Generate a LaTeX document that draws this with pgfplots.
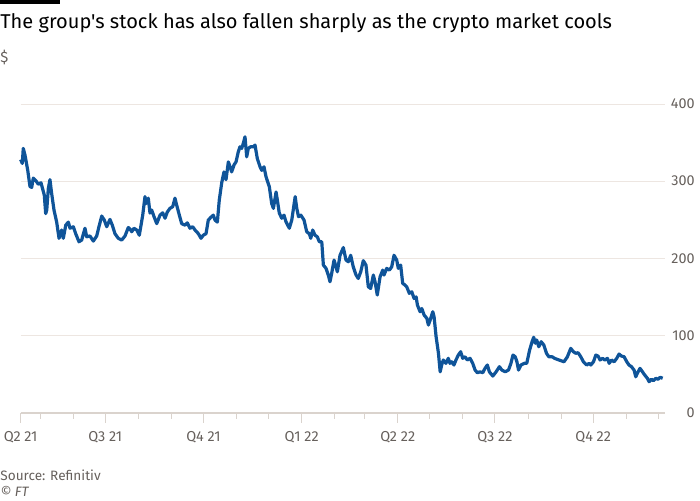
\documentclass[border=0pt]{standalone}
\usepackage{pgfplots}
\usepackage{pgfplotstable}
\pgfplotsset{compat=1.18}
\usepackage{fontspec}
\setmainfont{Fira Sans}
\newfontfamily\plainfont{Fira Sans}
\definecolor{ftblue}{HTML}{0F5499}
\definecolor{gridc}{HTML}{EDE6E1}
\definecolor{axisc}{HTML}{DAD3CD}
\definecolor{labc}{HTML}{66605C}
% day = days since 1 April 2021, price in $
\pgfplotstableread{
day price
11.8 328
13.3 323
14.2 342.5
15.8 334
18.4 314
20.5 293
22.1 292
23.6 304
26.1 300.5
28.3 296
30.8 298
33.9 282
35.2 258
36.2 262.6
37.7 290.7
39.2 302
40.8 284
43.0 262.6
45.5 247
47.7 226
50.2 236.7
51.7 226
54.0 243
56.4 247
58.0 239
61.1 241
63.3 232
66.4 221.5
68.9 223.7
72.0 239
73.6 228
76.7 229
79.8 222.4
83.0 229
85.1 241
87.7 254.8
90.1 249.6
92.4 241
95.4 250.5
97.6 243
100.1 232
103.2 226
106.4 223.7
109.5 229
112.6 240
114.2 238
115.8 234.5
117.9 239
120.5 236.7
122.9 230
126.1 256
128.2 280
129.2 271
131.3 278
132.9 258.7
134.5 262.6
136.7 254
139.2 245
142.3 256
144.8 259
147.0 252
149.1 260
151.6 264.8
154.2 267
156.3 278
157.9 269
160.4 256
162.6 245
165.7 243
167.9 246
170.4 239
172.9 241
175.1 236.7
178.2 232
180.7 226
182.8 230
185.4 232
187.5 249.6
189.8 253
192.2 256
193.8 249.6
196.0 247
197.8 275.5
200.1 298
202.2 312
204.1 302
206.3 325
207.9 318.6
209.4 312
211.6 321
213.5 325
215.6 338
217.2 344.6
218.8 342.5
220.3 349
221.9 357.5
223.5 331.6
225.0 342.5
227.2 344.6
229.7 344.6
231.3 346.8
233.4 329.5
236.0 318.6
237.6 314
239.7 318.6
241.6 305.7
244.7 292.7
246.9 271
248.5 264.8
251.0 286
252.2 275.5
254.0 258.7
256.3 252
258.4 256
260.3 247.4
263.4 239
265.7 249.6
268.9 280
270.4 264.8
272.0 254
274.2 256
277.2 249.6
279.7 234.5
282.1 232
283.5 226
285.3 236.7
287.5 230
289.6 228
291.5 221.5
293.8 221.5
295.3 191.3
297.8 187
299.9 178.4
301.5 169.7
303.1 180.6
305.3 197.8
307.2 189
308.4 182.6
310.9 204
314.0 214
316.5 197.8
318.7 195.6
320.9 204
323.3 189
325.9 178.4
328.0 174
330.3 182.6
332.7 197
335.2 191.3
337.4 163.2
339.6 161
342.1 178.4
343.7 169.7
345.8 152.5
348.4 176
350.9 184.8
352.1 178.4
354.6 187
357.1 184.8
359.3 189
361.5 204
364.0 197.8
365.5 187
367.7 191.3
369.6 167.6
371.8 165.4
373.4 163
375.8 154.7
378.1 156.7
380.3 148
382.2 150
383.4 139.5
385.9 130.8
387.5 135
389.7 126.5
392.2 122.3
393.7 113.6
395.3 120
397.8 130.8
399.0 124.4
400.9 98.4
403.1 77
404.7 53
406.1 61.8
407.6 68.3
410.1 64
412.3 70.5
413.9 64
415.5 66
417.6 61.8
419.5 68.3
421.7 74.7
423.9 79
425.8 70.5
428.0 72.5
430.1 68.3
432.7 70.5
435.2 64
437.4 55.3
439.5 51.8
442.0 53
444.6 51.8
446.7 57.5
448.9 61.8
450.8 53
454.0 47.5
457.1 53
460.2 59.6
462.5 55.3
465.6 53
468.7 55.3
471.0 64
472.9 74.7
475.0 72.5
476.6 66
478.1 55.3
480.4 61.8
483.5 64
485.8 64
488.5 81.2
490.8 92
492.3 97.7
493.9 90
495.1 94.2
497.1 85.5
499.3 92
501.8 87.7
504.3 77
506.5 72.5
509.6 72.5
511.8 70.5
516.0 68.3
520.7 66
523.9 72.5
527.0 83.4
529.5 79
531.7 77
533.9 77.7
536.4 72.5
538.9 66
542.0 61.8
544.2 64
545.8 61.8
548.3 66
550.5 74.7
552.6 73.4
554.5 68.3
556.8 70.5
558.9 68.3
561.4 70.5
563.0 64
565.2 68.3
567.6 66
570.1 70.5
572.3 76
574.5 73.4
577.0 72.5
579.5 66
581.6 61.8
583.9 59.6
586.3 55.3
587.9 46.6
590.1 53
591.9 57.5
594.2 53
596.3 48.8
598.8 44.6
600.4 40.2
602.6 43.3
604.5 41.5
606.7 44.6
608.9 43.3
610.8 45.9
613.1 44.6
}\pricedata
\begin{document}
\begin{tikzpicture}
\useasboundingbox (0pt,0pt) rectangle (350pt,250pt);
\fill[black] (0pt,250pt) rectangle (30pt,248pt);
\node[anchor=base west, inner sep=0pt, font=\plainfont\fontsize{10pt}{12pt}\selectfont] at (0pt,235.75pt) {The group's stock has also fallen sharply as the crypto market cools};
\node[anchor=base west, inner sep=0pt, text=labc, font=\fontsize{7.5pt}{9pt}\selectfont] at (0pt,219pt) {\$};
\node[anchor=base west, inner sep=0pt, text=labc, font=\fontsize{6.8pt}{9pt}\selectfont] at (0pt,10pt) {Source: Refinitiv};
\node[anchor=base west, inner sep=0pt, text=labc, font=\fontsize{6.8pt}{9pt}\selectfont\itshape] at (0pt,1.65pt) {\textcopyright{} FT};
\begin{axis}[
  at={(10.35pt,43.65pt)}, anchor=south west,
  scale only axis, width=322.15pt, height=154.35pt,
  xmin=11.8, xmax=615.3, ymin=0, ymax=400,
  axis x line*=bottom, axis y line*=right,
  x axis line style={color=axisc, line width=1pt},
  y axis line style={draw=none, draw opacity=0},
  ytick={0,100,200,300,400},
  ymajorgrids, major grid style={color=gridc, line width=0.5pt},
  ytick style={draw=none},
  yticklabel style={anchor=east, inner sep=0pt, xshift=10pt, text=labc, font=\fontsize{7.2pt}{8pt}\selectfont},
  xtick={11.8,91,183,275,365,456,548},
  xticklabels={Q2 21,Q3 21,Q4 21,Q1 22,Q2 22,Q3 22,Q4 22},
  minor xtick={30,61,122,153,214,244,306,334,395,426,487,518,579,609},
  tick align=outside,
  xtick style={color=axisc, line width=0.5pt},
  major tick length=5pt, minor tick length=3pt,
  xticklabel style={text=labc, font=\fontsize{7.2pt}{8pt}\selectfont, inner sep=0pt, yshift=-4pt},
  /pgf/number format/assume math mode=true,
  clip=false,
]
\addplot[ftblue, line width=1.6pt, line join=round] table[x=day,y=price] {\pricedata};
\end{axis}
\end{tikzpicture}
\end{document}
